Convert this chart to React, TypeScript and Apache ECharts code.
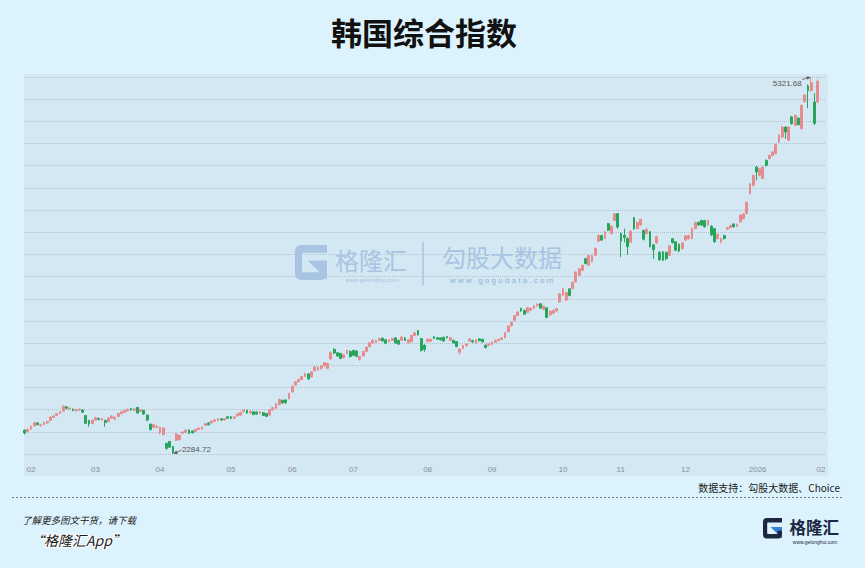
import React, { useEffect, useRef } from "react";
import * as echarts from "echarts";

// ---- data: trading days and [open, close, low, high] per month ----
const feb25Days = [3, 4, 5, 6, 7, 10, 11, 12, 13, 14, 17, 18, 19, 20, 21, 24, 25, 26, 27, 28];
const feb25 = [
  [2477, 2454, 2442, 2483], [2466, 2482, 2460, 2490], [2485, 2509, 2480, 2512], [2510, 2537, 2505, 2540],
  [2535, 2522, 2515, 2540], [2515, 2521, 2505, 2528], [2522, 2539, 2515, 2545], [2535, 2548, 2528, 2552],
  [2555, 2583, 2550, 2586], [2580, 2591, 2572, 2598], [2595, 2610, 2588, 2615], [2612, 2626, 2605, 2630],
  [2630, 2671, 2628, 2674], [2665, 2654, 2645, 2670], [2648, 2655, 2640, 2660], [2646, 2635, 2630, 2650],
  [2632, 2641, 2625, 2648], [2640, 2645, 2632, 2652], [2640, 2621, 2615, 2645], [2595, 2532, 2525, 2600],
];
const mar25Days = [4, 5, 6, 7, 10, 11, 12, 13, 14, 17, 18, 19, 20, 21, 24, 25, 26, 27, 28, 31];
const mar25 = [
  [2555, 2528, 2505, 2560], [2530, 2558, 2525, 2562], [2558, 2576, 2552, 2585], [2570, 2563, 2555, 2580],
  [2558, 2570, 2550, 2575], [2555, 2538, 2505, 2560], [2545, 2575, 2540, 2580], [2575, 2590, 2570, 2600],
  [2566, 2580, 2560, 2588], [2588, 2610, 2582, 2614], [2610, 2625, 2605, 2630], [2620, 2636, 2615, 2640],
  [2632, 2645, 2628, 2650], [2650, 2640, 2632, 2656], [2638, 2648, 2630, 2652], [2660, 2615, 2610, 2665],
  [2630, 2643, 2625, 2648], [2635, 2607, 2600, 2640], [2598, 2558, 2550, 2602], [2525, 2481, 2475, 2530],
];
const apr25Days = [1, 2, 3, 4, 7, 8, 9, 10, 11, 14, 15, 16, 17, 18, 21, 22, 23, 24, 25, 28, 29, 30];
const apr25 = [
  [2500, 2521, 2495, 2530], [2500, 2506, 2495, 2520], [2455, 2500, 2445, 2505], [2440, 2495, 2435, 2500],
  [2371, 2330, 2320, 2375], [2385, 2340, 2335, 2390], [2344, 2294, 2284.72, 2350], [2395, 2445, 2390, 2455],
  [2400, 2435, 2395, 2440], [2452, 2462, 2448, 2468], [2460, 2477, 2455, 2482], [2478, 2450, 2445, 2482],
  [2470, 2455, 2448, 2475], [2465, 2483, 2460, 2487], [2482, 2494, 2478, 2498], [2485, 2500, 2480, 2505],
  [2515, 2528, 2510, 2535], [2535, 2520, 2515, 2540], [2535, 2550, 2530, 2555], [2548, 2560, 2542, 2565],
  [2555, 2568, 2550, 2572], [2568, 2558, 2552, 2572],
];
const may25Days = [2, 7, 8, 9, 12, 13, 14, 15, 16, 19, 20, 21, 22, 23, 26, 27, 28, 29, 30];
const may25 = [
  [2560, 2570, 2555, 2575], [2585, 2573, 2568, 2590], [2584, 2572, 2565, 2588], [2572, 2584, 2566, 2588],
  [2592, 2608, 2588, 2612], [2598, 2620, 2594, 2625], [2625, 2640, 2620, 2645], [2638, 2615, 2610, 2642],
  [2615, 2630, 2608, 2635], [2625, 2603, 2598, 2628], [2622, 2606, 2600, 2628], [2612, 2625, 2606, 2630],
  [2618, 2595, 2590, 2622], [2610, 2588, 2582, 2615], [2598, 2642, 2594, 2646], [2640, 2658, 2635, 2662],
  [2652, 2690, 2648, 2695], [2682, 2725, 2678, 2730], [2718, 2697, 2690, 2722],
];
const jun25Days = [2, 4, 5, 9, 10, 11, 12, 13, 16, 17, 18, 19, 20, 23, 24, 25, 26, 27, 30];
const jun25 = [
  [2720, 2698, 2690, 2725], [2730, 2772, 2725, 2778], [2785, 2830, 2780, 2835], [2840, 2867, 2835, 2872],
  [2868, 2885, 2860, 2890], [2885, 2910, 2880, 2915], [2910, 2930, 2905, 2940], [2930, 2890, 2880, 2935],
  [2905, 2945, 2900, 2950], [2955, 2985, 2950, 2992], [2962, 2985, 2955, 2990], [2975, 2995, 2965, 3000],
  [2995, 3020, 2990, 3025], [2975, 3014, 2970, 3020], [3050, 3103, 3045, 3110], [3128, 3098, 3092, 3135],
  [3100, 3075, 3068, 3105], [3095, 3055, 3048, 3100], [3060, 3085, 3055, 3090],
];
const jul25Days = [1, 2, 3, 4, 7, 8, 9, 10, 11, 14, 15, 16, 17, 18, 21, 22, 23, 24, 25, 28, 29, 30, 31];
const jul25 = [
  [3095, 3118, 3088, 3125], [3110, 3070, 3062, 3120], [3118, 3080, 3072, 3125], [3115, 3072, 3065, 3120],
  [3045, 3070, 3038, 3075], [3075, 3110, 3070, 3115], [3112, 3145, 3105, 3150], [3150, 3180, 3145, 3185],
  [3178, 3200, 3170, 3210], [3185, 3200, 3178, 3206], [3200, 3215, 3195, 3222], [3218, 3195, 3190, 3222],
  [3205, 3178, 3170, 3210], [3190, 3205, 3185, 3210], [3200, 3215, 3195, 3222], [3220, 3180, 3172, 3225],
  [3200, 3170, 3162, 3205], [3200, 3228, 3195, 3232], [3220, 3200, 3195, 3228], [3180, 3205, 3175, 3210],
  [3190, 3240, 3185, 3245], [3240, 3262, 3235, 3268], [3278, 3245, 3238, 3285],
];
const aug25Days = [1, 4, 5, 6, 7, 8, 11, 12, 13, 14, 18, 19, 20, 21, 22, 25, 26, 27, 28, 29];
const aug25 = [
  [3214, 3119, 3110, 3220], [3160, 3128, 3108, 3168], [3190, 3210, 3185, 3215], [3192, 3208, 3186, 3214],
  [3228, 3218, 3210, 3235], [3222, 3210, 3205, 3228], [3220, 3205, 3198, 3225], [3225, 3195, 3190, 3230],
  [3230, 3222, 3215, 3235], [3200, 3222, 3195, 3228], [3200, 3180, 3175, 3205], [3190, 3150, 3145, 3195],
  [3105, 3130, 3085, 3135], [3135, 3158, 3128, 3162], [3158, 3170, 3150, 3175], [3195, 3212, 3190, 3218],
  [3198, 3188, 3180, 3205], [3180, 3205, 3175, 3210], [3212, 3198, 3192, 3218], [3208, 3188, 3182, 3215],
];
const sep25Days = [1, 2, 3, 4, 5, 8, 9, 10, 11, 12, 15, 16, 17, 18, 19, 22, 23, 24, 25, 26, 29, 30];
const sep25 = [
  [3160, 3142, 3135, 3168], [3160, 3172, 3152, 3178], [3168, 3185, 3162, 3190], [3185, 3200, 3180, 3205],
  [3198, 3208, 3192, 3214], [3208, 3220, 3202, 3225], [3222, 3262, 3218, 3268], [3270, 3315, 3265, 3320],
  [3318, 3345, 3312, 3350], [3362, 3398, 3355, 3405], [3400, 3428, 3395, 3435], [3458, 3440, 3430, 3462],
  [3440, 3410, 3405, 3448], [3425, 3462, 3420, 3468], [3442, 3458, 3435, 3465], [3458, 3478, 3452, 3485],
  [3480, 3490, 3472, 3498], [3495, 3460, 3452, 3500], [3450, 3475, 3445, 3482], [3462, 3385, 3378, 3468],
  [3405, 3435, 3398, 3440], [3420, 3440, 3412, 3448],
];
const oct25Days = [1, 2, 10, 13, 14, 15, 16, 17, 20, 21, 22, 23, 24, 27, 28, 29, 30, 31];
const oct25 = [
  [3438, 3455, 3430, 3462], [3510, 3575, 3505, 3580], [3565, 3615, 3558, 3620], [3525, 3585, 3518, 3592],
  [3615, 3562, 3555, 3622], [3618, 3668, 3612, 3675], [3672, 3750, 3665, 3756], [3725, 3776, 3718, 3782],
  [3765, 3805, 3760, 3812], [3858, 3820, 3812, 3862], [3805, 3885, 3800, 3890], [3835, 3882, 3828, 3890],
  [3885, 3942, 3880, 3948], [3998, 4046, 3992, 4052], [4045, 4008, 4000, 4050], [4020, 4073, 4015, 4080],
  [4140, 4088, 4080, 4146], [4060, 4120, 4055, 4126],
];
const nov25Days = [3, 4, 5, 6, 7, 10, 11, 12, 13, 14, 17, 18, 19, 20, 21, 24, 25, 26, 27, 28];
const nov25 = [
  [4167, 4220, 4160, 4226], [4220, 4113, 4100, 4226], [4060, 4000, 3871, 4070], [4045, 4028, 3990, 4100],
  [4020, 3955, 3890, 4030], [3990, 4080, 3985, 4088], [4188, 4100, 4090, 4195], [4100, 4150, 4095, 4158],
  [4130, 4175, 4122, 4180], [4085, 4015, 4005, 4092], [4060, 4095, 4055, 4102], [4075, 3955, 3948, 4080],
  [3970, 3930, 3858, 3975], [3985, 4035, 3978, 4045], [3910, 3850, 3840, 3918], [3912, 3846, 3838, 3920],
  [3910, 3858, 3845, 3915], [3885, 3962, 3880, 3968], [4018, 3988, 3980, 4025], [3995, 3926, 3918, 4000],
];
const dec25Days = [1, 2, 3, 4, 5, 8, 9, 10, 11, 12, 15, 16, 17, 18, 19, 22, 23, 24, 26, 29, 30];
const dec25 = [
  [3975, 3920, 3910, 3980], [3940, 3985, 3930, 3992], [4008, 4040, 4000, 4048], [4020, 4045, 4012, 4050],
  [4020, 4100, 4015, 4108], [4100, 4150, 4095, 4158], [4150, 4130, 4122, 4160], [4165, 4130, 4122, 4172],
  [4165, 4115, 4108, 4170], [4130, 4165, 4125, 4172], [4120, 4050, 4040, 4128], [4100, 3995, 3985, 4105],
  [4020, 4055, 4012, 4060], [3990, 4020, 3980, 4028], [4045, 4020, 4012, 4050], [4095, 4108, 4090, 4115],
  [4108, 4125, 4100, 4132], [4138, 4115, 4108, 4142], [4120, 4135, 4115, 4140], [4155, 4210, 4150, 4218],
  [4180, 4218, 4175, 4225],
];
const jan26Days = [2, 5, 6, 7, 8, 9, 12, 13, 14, 15, 16, 19, 20, 21, 22, 23, 26, 27, 28, 29, 30];
const jan26 = [
  [4222, 4312, 4215, 4320], [4382, 4460, 4375, 4468], [4450, 4528, 4442, 4535], [4596, 4556, 4490, 4605],
  [4530, 4583, 4520, 4590], [4505, 4596, 4498, 4605], [4650, 4610, 4600, 4658], [4665, 4690, 4658, 4698],
  [4690, 4718, 4682, 4725], [4705, 4777, 4698, 4785], [4798, 4852, 4790, 4860], [4838, 4918, 4830, 4925],
  [4918, 4878, 4825, 4925], [4812, 4918, 4805, 4925], [5000, 4946, 4938, 5008], [4932, 5012, 4925, 5020],
  [4990, 4938, 4930, 4998], [4906, 5093, 4898, 5100], [5123, 5177, 5115, 5185], [5250, 5212, 5070, 5262],
  [5215, 5275, 5200, 5321.68],
];
const feb26Days = [2, 3];
const feb26 = [
  [5120, 4949, 4935, 5190], [5120, 5288, 5110, 5300],
];

const monthBlocks: [string, number[], number[][]][] = [
  ["2025-02", feb25Days, feb25], ["2025-03", mar25Days, mar25], ["2025-04", apr25Days, apr25],
  ["2025-05", may25Days, may25], ["2025-06", jun25Days, jun25], ["2025-07", jul25Days, jul25],
  ["2025-08", aug25Days, aug25], ["2025-09", sep25Days, sep25], ["2025-10", oct25Days, oct25],
  ["2025-11", nov25Days, nov25], ["2025-12", dec25Days, dec25], ["2026-01", jan26Days, jan26],
  ["2026-02", feb26Days, feb26],
];

const dates: string[] = [];
const candles: number[][] = [];
const monthStarts = new Set<number>();
monthBlocks.forEach(([ym, days, rows]) => {
  monthStarts.add(dates.length);
  days.forEach((d, k) => {
    dates.push(`${ym}-${String(d).padStart(2, "0")}`);
    candles.push(rows[k]);
  });
});

const yMin = Math.min(...candles.map((c) => c[2]));
const yMax = Math.max(...candles.map((c) => c[3]));
const lowIndex = candles.findIndex((c) => c[2] === yMin);
const highIndex = candles.findIndex((c) => c[3] === yMax);

const PAGE_BG = "#dcf3fd";
const PLOT_BG = "#d3e8f3";
const UP = "#e68c8e";
const DOWN = "#27a55b";
const WM = "#a8c4e2";
const CJK = '"Noto Sans CJK SC", "Noto Sans", sans-serif';
const LATIN = '"Liberation Sans", "Noto Sans", sans-serif';

const G_FRAME =
  "M20 0 H100 V22 H26 Q22 22 22 26 V74 Q22 78 26 78 H76 V62 H100 V80 Q100 100 80 100 H20 Q0 100 0 80 V20 Q0 0 20 0 Z";
const G_TRI = "M40 44 H100 V100 Z";

let registered = false;
function registerShapes() {
  if (registered) return;
  registered = true;
  echarts.graphic.registerShape("gframe", (echarts.graphic as any).extendPath(G_FRAME, {}));
  echarts.graphic.registerShape("gtri", (echarts.graphic as any).extendPath(G_TRI, {}));
}

function arrow(id: string, sx: number, sy: number, px: number, py: number) {
  const dx = px - sx;
  const dy = py - sy;
  const len = Math.sqrt(dx * dx + dy * dy) || 1;
  const ux = dx / len;
  const uy = dy / len;
  const bx = px - ux * 4;
  const by = py - uy * 4;
  const nx = -uy * 1.8;
  const ny = ux * 1.8;
  return [
    { id: id + "-l", type: "line", shape: { x1: sx, y1: sy, x2: bx, y2: by }, style: { stroke: "#555", lineWidth: 0.8 }, z: 10 },
    {
      id: id + "-h",
      type: "polygon",
      shape: { points: [[px, py], [bx + nx, by + ny], [bx - nx, by - ny]] },
      style: { fill: "#555" },
      z: 10,
    },
  ];
}

function buildOption() {
  return {
    animation: false,
    backgroundColor: PAGE_BG,
    grid: [
      { left: 24, right: 37, top: 74, bottom: 92, show: true, backgroundColor: PLOT_BG, borderWidth: 0, z: -1 },
      { left: 24, right: 40, top: 77, bottom: 114 },
      { left: 23, right: 45.7, top: 77, bottom: 114 },
    ],
    xAxis: [
      { gridIndex: 0, type: "value", show: false },
      { gridIndex: 1, type: "value", show: false },
      {
        gridIndex: 2,
        type: "category",
        data: dates,
        boundaryGap: true,
        axisLine: { show: false },
        axisTick: { show: false },
        splitLine: { show: false },
        axisLabel: {
          interval: (idx: number) => monthStarts.has(idx),
          formatter: (v: string) => (v.slice(5, 7) === "01" ? v.slice(0, 4) : v.slice(5, 7)),
          align: "left",
          margin: 11,
          fontSize: 8,
          color: "#8a8f94",
          fontFamily: LATIN,
          padding: [0, 0, 0, 2],
        },
      },
    ],
    yAxis: [
      { gridIndex: 0, type: "value", show: false },
      {
        gridIndex: 1,
        type: "value",
        min: 0,
        max: 17,
        interval: 1,
        axisLabel: { show: false },
        axisLine: { show: false },
        axisTick: { show: false },
        splitLine: { show: true, lineStyle: { type: "dotted", color: "#b2c3cc", width: 1 } },
      },
      { gridIndex: 2, type: "value", min: yMin, max: yMax, show: false, splitLine: { show: false } },
    ],
    series: [
      {
        type: "candlestick",
        xAxisIndex: 2,
        yAxisIndex: 2,
        data: candles,
        barWidth: 2.3,
        itemStyle: { color: UP, borderColor: UP, color0: DOWN, borderColor0: DOWN, borderWidth: 1 },
      },
    ],
  };
}

function buildGraphics(lowPx: number[], highPx: number[]) {
  const g: any[] = [
    // title
    {
      id: "title", type: "text", x: 424, y: 31.5, z: 5,
      style: { text: "韩国综合指数", fontSize: 31, fontWeight: "bold", fontFamily: CJK, fill: "#111", align: "center", verticalAlign: "middle" },
    },
    // watermark
    { id: "wm-tri", type: "gtri", x: 295, y: 245, scaleX: 0.32, scaleY: 0.35, style: { fill: WM }, z: 1 },
    { id: "wm-frame", type: "gframe", x: 295, y: 245, scaleX: 0.32, scaleY: 0.35, style: { fill: WM }, z: 1 },
    {
      id: "wm-glh", type: "text", x: 335, y: 259.5, z: 1,
      style: { text: "格隆汇", fontSize: 24, fontFamily: CJK, fill: WM, align: "left", verticalAlign: "middle" },
    },
    {
      id: "wm-glh-url", type: "text", x: 372, y: 280, z: 1,
      style: { text: "www.gelonghui.com", fontSize: 6, fontFamily: LATIN, fill: WM, align: "center", verticalAlign: "middle" },
    },
    { id: "wm-sep", type: "line", z: 1, shape: { x1: 423, y1: 242, x2: 423, y2: 285 }, style: { stroke: WM, lineWidth: 1.5 } },
    {
      id: "wm-gogu", type: "text", x: 442, y: 256.5, z: 1,
      style: { text: "勾股大数据", fontSize: 24, fontFamily: CJK, fill: WM, align: "left", verticalAlign: "middle" },
    },
    {
      id: "wm-gogu-url", type: "text", x: 501.5, y: 280, z: 1,
      style: { text: "w w w . g o g u d a t a . c o m", fontSize: 8, fontFamily: LATIN, fill: "#8fb1d7", align: "center", verticalAlign: "middle" },
    },
    // source
    {
      id: "source", type: "text", x: 840, y: 487, z: 5,
      style: { text: "数据支持：勾股大数据、Choice", fontSize: 10, fontFamily: CJK, fill: "#222", align: "right", verticalAlign: "middle" },
    },
    { id: "divider", type: "line", z: 5, shape: { x1: 12, y1: 497.5, x2: 843, y2: 497.5 }, style: { stroke: "#7a7a7a", lineWidth: 1, lineDash: [2, 2] } },
    {
      id: "promo1", type: "text", x: 22, y: 520, z: 5,
      style: { text: "了解更多图文干货，请下载", fontSize: 9.5, fontStyle: "italic", fontFamily: CJK, fill: "#222", align: "left", verticalAlign: "middle" },
    },
    {
      id: "promo2", type: "text", x: 30, y: 540, z: 5,
      style: {
        text: "“格隆汇App”", fontSize: 14, fontStyle: "italic", fontFamily: CJK, fill: "#1a1a1a",
        stroke: "#ffffff", lineWidth: 2, align: "left", verticalAlign: "middle",
      },
    },
    // bottom-right logo
    { id: "lg-tri", type: "gtri", x: 763, y: 518, scaleX: 0.19, scaleY: 0.205, style: { fill: "#3a80d4" }, z: 5 },
    { id: "lg-frame", type: "gframe", x: 763, y: 518, scaleX: 0.19, scaleY: 0.205, style: { fill: "#1d2744" }, z: 5 },
    {
      id: "lg-text", type: "text", x: 789.5, y: 526.5, z: 5,
      style: { text: "格隆汇", fontSize: 16.5, fontWeight: "bold", fontFamily: CJK, fill: "#1d2744", align: "left", verticalAlign: "middle" },
    },
    {
      id: "lg-url", type: "text", x: 815, y: 541.5, z: 5,
      style: { text: "www.gelonghui.com", fontSize: 5, fontFamily: LATIN, fill: "#1d2744", align: "center", verticalAlign: "middle" },
    },
    // annotations
    {
      id: "low-t", type: "text", x: lowPx[0] + 9, y: lowPx[1] - 4.5, z: 10,
      style: { text: String(yMin), fontSize: 8, fontFamily: LATIN, fill: "#555", align: "left", verticalAlign: "middle" },
    },
    ...arrow("low-a", lowPx[0] + 8.5, lowPx[1] - 4, lowPx[0] + 0.5, lowPx[1]),
    {
      id: "high-t", type: "text", x: highPx[0] - 9.5, y: highPx[1] + 6, z: 10,
      style: { text: String(yMax), fontSize: 8, fontFamily: LATIN, fill: "#555", align: "right", verticalAlign: "middle" },
    },
    ...arrow("high-a", highPx[0] - 9, highPx[1] + 2.5, highPx[0] - 0.5, highPx[1]),
  ];
  return g;
}

export default function App() {
  const ref = useRef<HTMLDivElement>(null);
  useEffect(() => {
    if (!ref.current) return;
    registerShapes();
    const chart = echarts.init(ref.current, undefined, { renderer: "svg", width: 865, height: 568 });
    chart.setOption(buildOption() as any);
    const lowPx = chart.convertToPixel({ gridIndex: 2 } as any, [lowIndex, yMin]) as number[];
    const highPx = chart.convertToPixel({ gridIndex: 2 } as any, [highIndex, yMax]) as number[];
    chart.setOption({ graphic: buildGraphics(lowPx, highPx) } as any);
    return () => chart.dispose();
  }, []);
  return (
    <div
      ref={ref}
      style={{ position: "absolute", left: 0, top: 0, width: 865, height: 568, background: PAGE_BG }}
    />
  );
}
